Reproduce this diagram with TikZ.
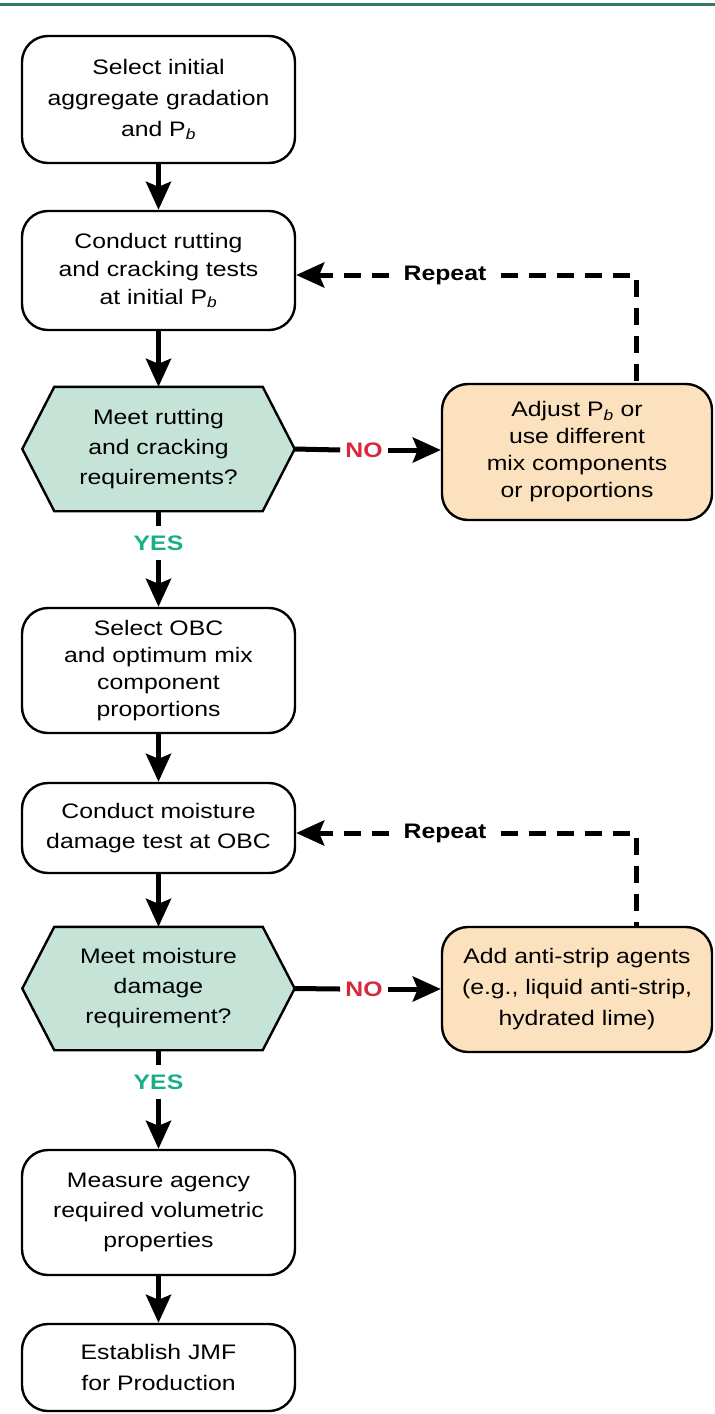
\documentclass[tikz,border=0pt]{standalone}
\usepackage{fontspec}
\setmainfont{Liberation Sans}[FakeStretch=1.18]
\usetikzlibrary{arrows.meta,calc,backgrounds}
\definecolor{hexfill}{HTML}{C6E3D7}
\definecolor{orangefill}{HTML}{FBE1BD}
\definecolor{nored}{HTML}{D7283C}
\definecolor{yesteal}{HTML}{1AAE88}
\definecolor{topteal}{HTML}{2E7B6A}
\newcommand{\fs}[1]{\fontsize{21}{#1}\selectfont}
\newcommand{\Pb}{P\textsubscript{\textit{b}}}
\begin{document}
\begin{tikzpicture}[x=1pt,y=-1pt,
  box/.style={draw=black, line width=2.4pt, rounded corners=26pt, fill=white,
    minimum width=273pt, align=center, inner sep=0pt},
  obox/.style={box, fill=orangefill, minimum width=270pt},
  hexnode/.style={minimum width=272pt, align=center, inner sep=0pt},
  hexline/.style={draw=black, line width=2.4pt, fill=hexfill},
  link/.style={line width=5pt},
  arr/.style={line width=5pt, -{Stealth[length=28pt,width=25pt,inset=5pt]}},
  dashlink/.style={line width=5pt, dash pattern=on 17pt off 11pt},
  nolab/.style={font=\bfseries\fs{24}, text=nored, inner xsep=5pt, inner ysep=4pt},
  yeslab/.style={font=\bfseries\fs{24}, text=yesteal, inner xsep=5pt, inner ysep=9pt},
  replab/.style={font=\bfseries\fs{24}, text=black, inner xsep=14pt, inner ysep=4pt}
]
\useasboundingbox (0,0) rectangle (715,1414);
\draw[topteal, line width=3pt] (0,4) -- (715,4);

% main column
\node[box, minimum height=127pt, font=\fs{31}] (b1) at (158.5,99.5)
  {Select initial\\aggregate gradation\\and \Pb};
\node[box, minimum height=119pt, font=\fs{28}] (b2) at (158.5,270.5)
  {Conduct rutting\\and cracking tests\\at initial \Pb};
\node[hexnode, minimum height=124pt, font=\fs{30}] (h1) at (158.5,449)
  {Meet rutting\\and cracking\\requirements?};
\node[obox, minimum height=136pt, font=\fs{27}] (o1) at (577,452)
  {Adjust \Pb{} or\\use different\\mix components\\or proportions};
\node[box, minimum height=125pt, font=\fs{27}] (b3) at (158.5,670.5)
  {Select OBC\\and optimum mix\\component\\proportions};
\node[box, minimum height=90pt, font=\fs{30}] (b4) at (158.5,828)
  {Conduct moisture\\damage test at OBC};
\node[hexnode, minimum height=123pt, font=\fs{30}] (h2) at (158.5,988.5)
  {Meet moisture\\damage\\requirement?};
\node[obox, minimum height=125pt, font=\fs{31}] (o2) at (577,989.5)
  {Add anti-strip agents\\(e.g., liquid anti-strip,\\hydrated lime)};
\node[box, minimum height=125pt, font=\fs{30}] (b5) at (158.5,1212.5)
  {Measure agency\\required volumetric\\properties};
\node[box, minimum height=87pt, font=\fs{31}] (b6) at (158.5,1367.5)
  {Establish JMF\\for Production};

% hexagon outlines
\begin{scope}[on background layer]
  \foreach \h in {h1,h2}{
    \draw[hexline] (\h.west) -- ($(\h.north west)+(32,0)$) -- ($(\h.north east)+(-32,0)$)
      -- (\h.east) -- ($(\h.south east)+(-32,0)$) -- ($(\h.south west)+(32,0)$) -- cycle;
  }
\end{scope}

% labels
\node[yeslab] (yes1) at (158.5,543) {YES};
\node[yeslab] (yes2) at (158.5,1082) {YES};
\node[nolab] (no1) at (364,450) {NO};
\node[nolab] (no2) at (364,989) {NO};
\node[replab] (rep1) at (445,275) {Repeat};
\node[replab] (rep2) at (445,833) {Repeat};
\coordinate (c1) at (636,275);
\coordinate (c2) at (636,833);

% connectors
\draw[arr] (b1) -- (b2);
\draw[arr] (b2) -- (h1);
\draw[link] (h1.south) -- (yes1.north);
\draw[arr] (yes1.south) -- (b3.north);
\draw[arr] (b3) -- (b4);
\draw[arr] (b4) -- (h2);
\draw[link] (h2.south) -- (yes2.north);
\draw[arr] (yes2.south) -- (b5.north);
\draw[arr] (b5) -- (b6);

\draw[link] (h1.east) -- (no1.west);
\draw[arr] (no1.east) -- (o1.west |- no1.east);
\draw[link] (h2.east) -- (no2.west);
\draw[arr] (no2.east) -- (o2.west |- no2.east);

\draw[dashlink] (rep1.east) -- (c1) -- (c1 |- o1.north);
\draw[dashlink, arr] (rep1.west) -- (b2.east |- rep1.west);
\draw[dashlink] (rep2.east) -- (c2) -- (c2 |- o2.north);
\draw[dashlink, arr] (rep2.west) -- (b4.east |- rep2.west);
\end{tikzpicture}
\end{document}
